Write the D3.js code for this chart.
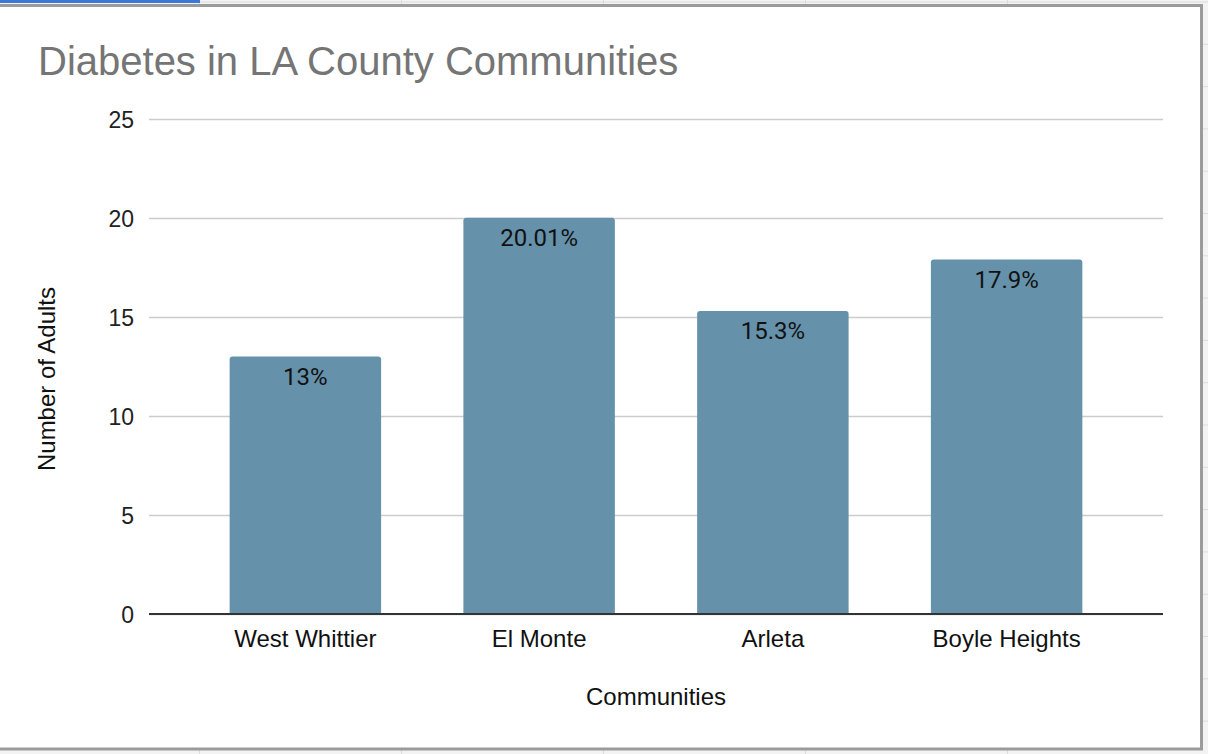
<!DOCTYPE html>
<html>
<head>
<meta charset="utf-8">
<script src="https://cdn.jsdelivr.net/npm/d3@7"></script>
<style>
  html, body { margin: 0; padding: 0; background: #f3f3f3; }
  svg { display: block; }
</style>
</head>
<body>
<svg id="chart" width="1208" height="754"></svg>
<script>
const title = "Diabetes in LA County Communities";
const categories = ["West Whittier", "El Monte", "Arleta", "Boyle Heights"];
const values = [13, 20.01, 15.3, 17.9];
const valueLabels = ["13%", "20.01%", "15.3%", "17.9%"];
const yTicks = [0, 5, 10, 15, 20, 25];
const xTitle = "Communities";
const yTitle = "Number of Adults";

(function () {
const svg = d3.select("#chart");
const W = 1208, H = 754;

// spreadsheet background decoration
const bg = svg.append("g");
bg.append("rect").attr("x", 0).attr("y", 0).attr("width", W).attr("height", H).attr("fill", "#f3f3f3");
[199, 401, 603, 805, 1007].forEach(xx => {
  bg.append("line").attr("x1", xx + 0.5).attr("x2", xx + 0.5).attr("y1", 0).attr("y2", H)
    .attr("stroke", "#dcdcdc").attr("stroke-width", 1);
});
d3.range(2, H, 42.3).forEach(yy => {
  bg.append("line").attr("x1", 0).attr("x2", W).attr("y1", yy).attr("y2", yy)
    .attr("stroke", "#dcdcdc").attr("stroke-width", 1);
});
bg.append("rect").attr("x", 0).attr("y", 0).attr("width", 200).attr("height", 3).attr("fill", "#3c78d8");

// chart frame
svg.append("rect")
  .attr("x", -2).attr("y", 5.5).attr("width", 1203.5).attr("height", 743.5)
  .attr("fill", "#ffffff").attr("stroke", "#9b9b9b").attr("stroke-width", 3);

const pLeft = 149, pRight = 1163, pTop = 119, pBottom = 614;

const x = d3.scaleBand().domain(categories).range([pLeft, pRight]).paddingInner(0.352).paddingOuter(0.345);
const y = d3.scaleLinear().domain([0, 25]).range([pBottom, pTop]);

// gridlines
const yAxis = d3.axisLeft(y).tickValues(yTicks).tickSize(-(pRight - pLeft)).tickPadding(15).tickFormat(d3.format("d"));
const gy = svg.append("g").attr("transform", `translate(${pLeft},0)`).call(yAxis);
gy.select(".domain").remove();
gy.selectAll(".tick line").attr("stroke", "#cccccc").attr("stroke-width", 1.5);
gy.selectAll(".tick text")
  .attr("font-family", "Liberation Sans, Arial, sans-serif")
  .attr("font-size", 23).attr("fill", "#222222").attr("dy", "0.36em");

// bars with rounded top corners
const r = 3;
svg.append("g").selectAll("path").data(values).join("path")
  .attr("d", (v, i) => {
    const x0 = x(categories[i]), w = x.bandwidth(), y0 = y(v), y1 = y(0);
    return `M${x0},${y1} L${x0},${y0 + r} Q${x0},${y0} ${x0 + r},${y0} L${x0 + w - r},${y0} Q${x0 + w},${y0} ${x0 + w},${y0 + r} L${x0 + w},${y1} Z`;
  })
  .attr("fill", "#6591ab");

// value labels
svg.append("g").selectAll("text").data(values).join("text")
  .attr("x", (v, i) => x(categories[i]) + x.bandwidth() / 2)
  .attr("y", v => y(v) + 28)
  .attr("text-anchor", "middle")
  .attr("font-family", "Roboto, sans-serif")
  .attr("font-size", 24)
  .attr("fill", "#111111")
  .text((v, i) => valueLabels[i]);

// x axis
const xAxis = d3.axisBottom(x).tickSize(0).tickPadding(16);
const gx = svg.append("g").attr("transform", `translate(0,${pBottom})`).call(xAxis);
gx.select(".domain").attr("stroke", "#333333").attr("stroke-width", 2).attr("d", `M${pLeft},0H${pRight}`);
gx.selectAll(".tick text")
  .attr("font-family", "Liberation Sans, Arial, sans-serif")
  .attr("font-size", 24).attr("fill", "#111111").attr("dy", "0.71em");

// titles
svg.append("text").attr("x", 38).attr("y", 75)
  .attr("font-family", "Liberation Sans, Arial, sans-serif")
  .attr("font-size", 40).attr("fill", "#757575").text(title);

svg.append("text").attr("x", (pLeft + pRight) / 2).attr("y", 705)
  .attr("text-anchor", "middle")
  .attr("font-family", "Liberation Sans, Arial, sans-serif")
  .attr("font-size", 24).attr("fill", "#111111").text(xTitle);

svg.append("text").attr("transform", "translate(55,379) rotate(-90)")
  .attr("text-anchor", "middle")
  .attr("font-family", "Liberation Sans, Arial, sans-serif")
  .attr("font-size", 24).attr("fill", "#111111").text(yTitle);
})();
</script>
</body>
</html>
